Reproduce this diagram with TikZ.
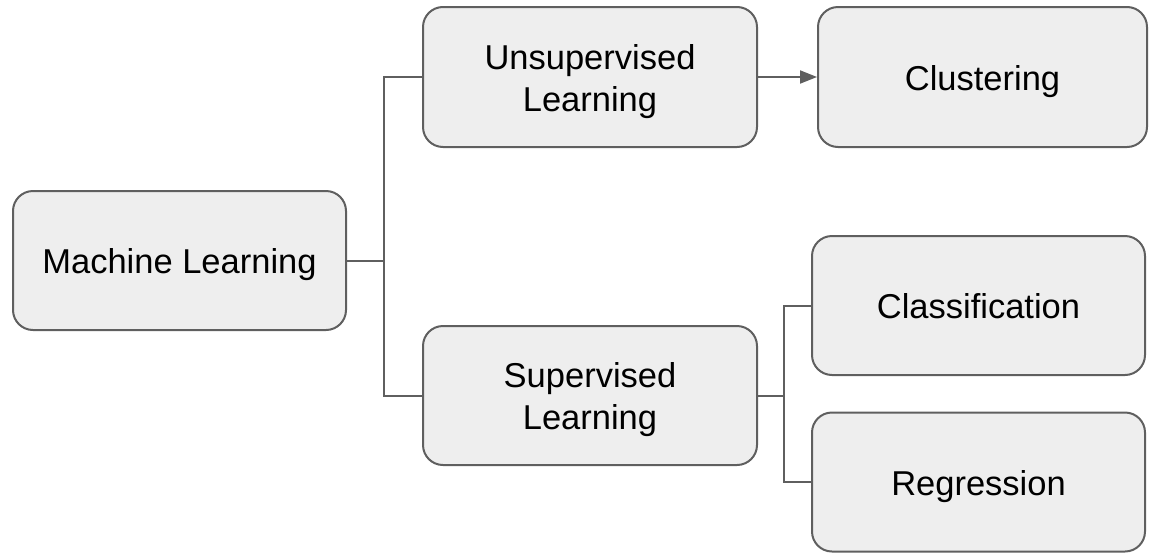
\documentclass[tikz,border=0pt]{standalone}
\usepackage{fontspec}
\setmainfont{Liberation Sans}
\usetikzlibrary{arrows.meta}
\definecolor{boxfill}{HTML}{EEEEEE}
\definecolor{edge}{HTML}{5F5F5F}
% set the label a little below the box centre, keeping its nominal size
\newcommand{\boxtext}[1]{\raisebox{-5pt}[\height][\depth]{\begin{tabular}{@{}c@{}}#1\end{tabular}}}
\begin{document}
\begin{tikzpicture}[x=1pt,y=-1pt,
  box/.style={draw=edge, fill=boxfill, line width=2pt, rounded corners=20pt,
    align=center, inner sep=0pt, font=\fontsize{34.5}{42}\selectfont},
  link/.style={draw=edge, line width=2pt}]
\useasboundingbox (0,0) rectangle (1153,552);
% boxes, placed by their centres
\node[box, minimum width=333pt, minimum height=139pt] (ml) at (179.5,260.5) {\boxtext{Machine Learning}};
\node[box, minimum width=334pt, minimum height=140pt] (unsup) at (590,77) {\boxtext{Unsupervised\\Learning}};
\node[box, minimum width=334pt, minimum height=139pt] (sup) at (590,395.5) {\boxtext{Supervised\\Learning}};
\node[box, minimum width=329pt, minimum height=140pt] (clust) at (982.5,77) {\boxtext{Clustering}};
\node[box, minimum width=333pt, minimum height=139pt] (class) at (978.5,305.5) {\boxtext{Classification}};
\node[box, minimum width=333pt, minimum height=139pt] (regr) at (978.5,482) {\boxtext{Regression}};
% branch points
\coordinate (j1) at (384,260.5);
\coordinate (j2) at (784,395.5);
% connectors
\draw[link] (ml.east) -- (j1);
\draw[link] (j1) |- (unsup.west);
\draw[link] (j1) |- (sup.west);
\draw[link, -{Triangle[length=17pt,width=13pt]}] (unsup.east) -- (clust.west);
\draw[link] (sup.east) -- (j2);
\draw[link] (j2) |- (class.west);
\draw[link] (j2) |- (regr.west);
\end{tikzpicture}
\end{document}
